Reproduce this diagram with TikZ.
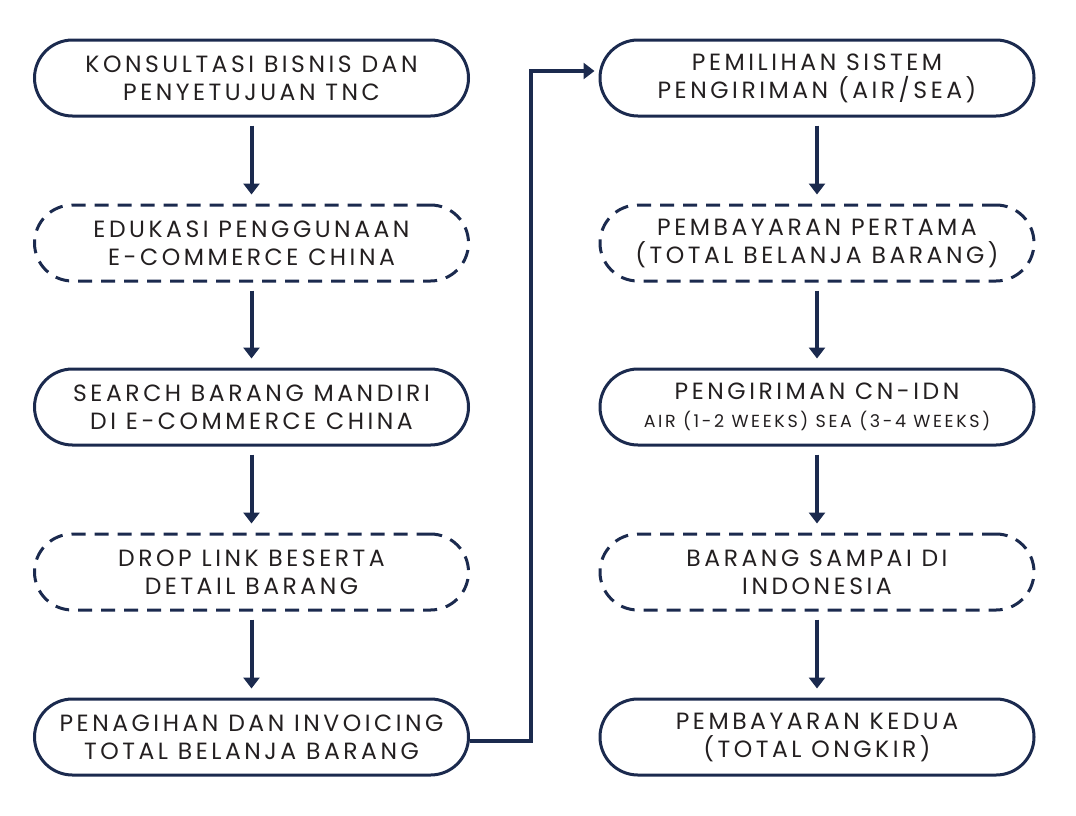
\documentclass[tikz,border=0pt]{standalone}
\usepackage{fontspec}
\setmainfont[LetterSpace=15]{Poppins}
\usetikzlibrary{arrows.meta}
\definecolor{navy}{HTML}{1B2A4E}
\definecolor{ink}{HTML}{231F20}
\begin{document}
\begin{tikzpicture}[x=1pt,y=-1pt,
    box/.style={draw=navy, line width=3pt, rounded corners=38pt,
      minimum width=434pt, minimum height=76pt, align=center,
      text=ink, font=\fontsize{23.5}{28}\selectfont},
    dbox/.style={box, dash pattern=on 14pt off 9pt},
    flow/.style={draw=navy, line width=4pt,
      -{Triangle[length=11pt,width=16pt]}, shorten <=8pt, shorten >=9pt},
    link/.style={draw=navy, line width=4.5pt,
      -{Triangle[length=11pt,width=16pt]}, shorten >=4pt}]
        \useasboundingbox (0,0) rectangle (1076,815);
        % Left column
        \node[box]  (k1) at (251.5,78)  {KONSULTASI BISNIS DAN\\PENYETUJUAN TNC};
        \node[dbox] (k2) at (251.5,243) {EDUKASI PENGGUNAAN\\E-COMMERCE CHINA};
        \node[box]  (k3) at (251.5,407) {SEARCH BARANG MANDIRI\\DI E-COMMERCE CHINA};
        \node[dbox] (k4) at (251.5,572) {DROP LINK BESERTA\\DETAIL BARANG};
        \node[box]  (k5) at (251.5,737) {PENAGIHAN DAN INVOICING\\TOTAL BELANJA BARANG};
        % Right column
        \node[box]  (r1) at (817,78)  {PEMILIHAN SISTEM\\PENGIRIMAN (AIR/SEA)};
        \node[dbox] (r2) at (817,243) {PEMBAYARAN PERTAMA\\(TOTAL BELANJA BARANG)};
        \node[box]  (r3) at (817,407) {PENGIRIMAN CN-IDN\\{\fontsize{17.5}{22}\selectfont AIR (1-2 WEEKS) SEA (3-4 WEEKS)}};
        \node[dbox] (r4) at (817,572) {BARANG SAMPAI DI\\INDONESIA};
        \node[box]  (r5) at (817,737) {PEMBAYARAN KEDUA\\(TOTAL ONGKIR)};
        % Arrows down each column
        \foreach \a/\b in {k1/k2,k2/k3,k3/k4,k4/k5,r1/r2,r2/r3,r3/r4,r4/r5}
            \draw[flow] (\a) -- (\b);
        % Link from left column to right column
        \coordinate (turn) at (531,71);
        \draw[link] ([yshift=-4pt]k5.east) -| (turn) -- (r1.west |- turn);
\end{tikzpicture}
\end{document}
